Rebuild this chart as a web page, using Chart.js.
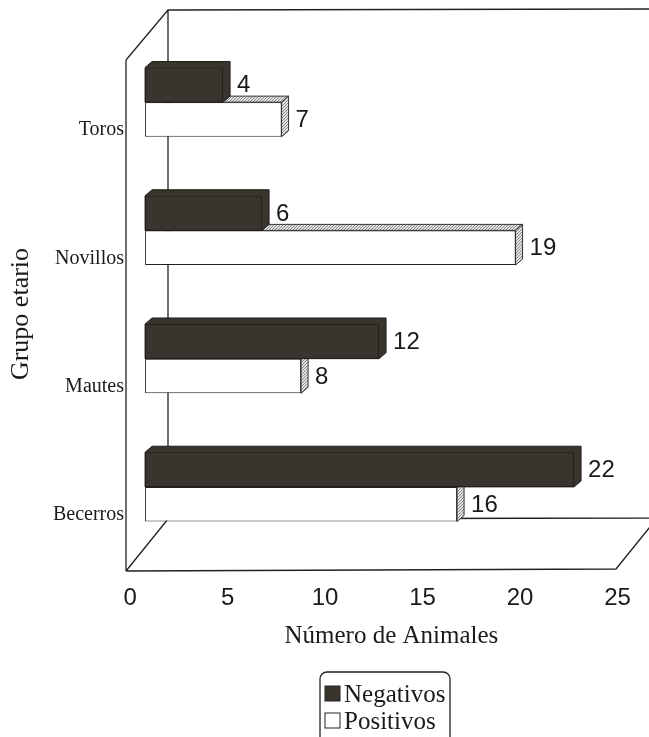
<!DOCTYPE html>
<html><head><meta charset="utf-8">
<script src="https://cdn.jsdelivr.net/npm/chart.js@4.4.0/dist/chart.umd.min.js"></script>
<style>html,body{margin:0;padding:0;background:#fff}#wrap{width:649px;height:737px;position:relative}</style>
</head><body><div id="wrap"><canvas id="c" width="649" height="737"></canvas></div>
<script>
// ---- data ----
const categories = ['Toros', 'Novillos', 'Mautes', 'Becerros'];
const negativos = [4, 6, 12, 22];
const positivos = [7, 19, 8, 16];
const xTickValues = [0, 5, 10, 15, 20, 25];
const seriesNames = ['Negativos', 'Positivos'];
const xTitle = 'Número de Animales';
const yTitle = 'Grupo etario';

// ---- styles ----
const DARK = '#3a342e';
const INK = '#1a1a1a';
function makePattern() {
  const p = document.createElement('canvas'); p.width = 3; p.height = 3;
  const g = p.getContext('2d');
  g.fillStyle = '#e2e2e2'; g.fillRect(0, 0, 3, 3);
  g.fillStyle = '#8a8a8a'; g.fillRect(0, 0, 1, 1); g.fillRect(1, 2, 1, 1); g.fillRect(2, 1, 1, 1);
  return g.createPattern(p, 'repeat');
}
const GRAY = makePattern();
const faceColors = [DARK, GRAY];
const DEPTH = {dx: 7, dy: 6};

const frame3d = {
  id: 'frame3d',
  beforeDatasetsDraw(chart) {
    const {ctx, chartArea: a} = chart;
    const fl = a.left + 1, fb = a.bottom + 20, ft = a.top + 22;
    const bl = a.left + 43, bb = a.bottom - 32, bt = a.top - 28;
    const fr = a.right - 23;
    const ddx = bl - fl, ddy = bb - fb;
    ctx.save();
    ctx.strokeStyle = '#222'; ctx.lineWidth = 1.3;
    ctx.beginPath();
    ctx.moveTo(bl, bb); ctx.lineTo(bl, bt); ctx.lineTo(chart.width + 2, bt - 1);
    ctx.moveTo(fl, ft); ctx.lineTo(bl, bt);
    ctx.moveTo(fl, ft); ctx.lineTo(fl, fb);
    ctx.moveTo(fl, fb); ctx.lineTo(fr, fb - 2); ctx.lineTo(fr + ddx, fb - 2 + ddy);
    ctx.moveTo(fl, fb); ctx.lineTo(bl, bb); ctx.lineTo(chart.width + 2, bb - 1);
    ctx.stroke();
    ctx.restore();
  }
};

const bars3d = {
  id: 'bars3d',
  beforeDatasetDraw(chart, args) {
    const ctx = chart.ctx, idx = args.index, {dx, dy} = DEPTH;
    args.meta.data.forEach(el => {
      const xl = el.base, xr = el.x, yt = el.y - el.height / 2, yb = el.y + el.height / 2;
      ctx.save();
      ctx.lineWidth = 1;
      ctx.fillStyle = faceColors[idx];
      if (idx === 0) {
        ctx.strokeStyle = '#221e1a';
        ctx.beginPath();
        ctx.moveTo(xl, yb); ctx.lineTo(xl, yt); ctx.lineTo(xl + dx, yt - dy);
        ctx.lineTo(xr + dx, yt - dy); ctx.lineTo(xr + dx, yb - dy); ctx.lineTo(xr, yb);
        ctx.closePath(); ctx.fill(); ctx.stroke();
      } else {
        ctx.strokeStyle = '#333';
        ctx.beginPath();
        ctx.moveTo(xl, yt); ctx.lineTo(xl + dx, yt - dy); ctx.lineTo(xr + dx, yt - dy); ctx.lineTo(xr, yt);
        ctx.closePath(); ctx.fill(); ctx.stroke();
        ctx.beginPath();
        ctx.moveTo(xr, yt); ctx.lineTo(xr + dx, yt - dy); ctx.lineTo(xr + dx, yb - dy); ctx.lineTo(xr, yb);
        ctx.closePath(); ctx.fill(); ctx.stroke();
      }
      ctx.restore();
    });
  }
};

const valueLabels = {
  id: 'valueLabels',
  afterDatasetsDraw(chart) {
    const ctx = chart.ctx;
    ctx.save();
    ctx.font = '24px "Liberation Sans", Arial, sans-serif';
    ctx.fillStyle = INK; ctx.textAlign = 'left'; ctx.textBaseline = 'middle';
    chart.data.datasets.forEach((ds, i) => {
      chart.getDatasetMeta(i).data.forEach((el, j) => {
        ctx.fillText(String(ds.data[j]), el.x + 14, el.y + 1);
      });
    });
    ctx.restore();
  }
};

const boxLegend = {
  id: 'boxLegend',
  afterDraw(chart) {
    const ctx = chart.ctx, a = chart.chartArea;
    const cx = (a.left + a.right) / 2 + 3;
    const w = 130, x0 = cx - w / 2, y0 = 672;
    ctx.save();
    ctx.strokeStyle = '#222'; ctx.lineWidth = 1.3;
    ctx.beginPath();
    ctx.roundRect(x0, y0, w, 90, 7);
    ctx.stroke();
    ctx.font = '25px "Liberation Serif", "Times New Roman", serif';
    ctx.textBaseline = 'middle'; ctx.textAlign = 'left';
    chart.data.datasets.forEach((ds, i) => {
      const yc = y0 + 22 + i * 27;
      ctx.fillStyle = ds.backgroundColor;
      ctx.fillRect(x0 + 5, yc - 8, 15, 15);
      ctx.strokeStyle = '#222'; ctx.lineWidth = 1;
      ctx.strokeRect(x0 + 5, yc - 8, 15, 15);
      ctx.fillStyle = INK;
      ctx.fillText(ds.label, x0 + 24, yc + 1);
    });
    ctx.restore();
  }
};

new Chart(document.getElementById('c'), {
  type: 'bar',
  data: {
    labels: categories,
    datasets: [
      {label: seriesNames[0], data: negativos, backgroundColor: DARK, borderColor: '#221e1a', borderWidth: 1, borderSkipped: false},
      {label: seriesNames[1], data: positivos, backgroundColor: '#ffffff', borderColor: '#222', borderWidth: 1, borderSkipped: false}
    ]
  },
  plugins: [frame3d, bars3d, valueLabels, boxLegend],
  options: {
    indexAxis: 'y',
    responsive: false,
    animation: false,
    devicePixelRatio: 1,
    categoryPercentage: 0.54,
    barPercentage: 1.0,
    layout: {padding: {left: 0, right: 10, top: 38, bottom: 86}},
    plugins: {legend: {display: false}, tooltip: {enabled: false}},
    scales: {
      x: {
        type: 'linear', min: -1.03, max: 25.33,
        afterBuildTicks: s => { s.ticks = xTickValues.map(v => ({value: v})); },
        afterFit: s => { s.height = 100; s.paddingLeft = 0; s.paddingRight = 0; },
        ticks: {font: {family: 'Liberation Sans', size: 24}, color: INK, padding: 33, labelOffset: -15, maxRotation: 0, autoSkip: false},
        grid: {display: false, drawTicks: false},
        border: {display: false},
        title: {display: true, text: '   ' + xTitle, font: {family: 'Liberation Serif', size: 25}, color: INK, padding: 0}
      },
      y: {
        afterFit: s => { s.width = 125; s.paddingTop = 0; s.paddingBottom = 0; },
        ticks: {font: {family: 'Liberation Serif', size: 20}, color: INK, padding: 1, labelOffset: 28},
        grid: {display: false, drawTicks: false},
        border: {display: false},
        title: {display: true, text: yTitle + '      ', font: {family: 'Liberation Serif', size: 26}, color: INK, padding: {top: 6, bottom: 0}}
      }
    }
  }
});
</script>
</body></html>
